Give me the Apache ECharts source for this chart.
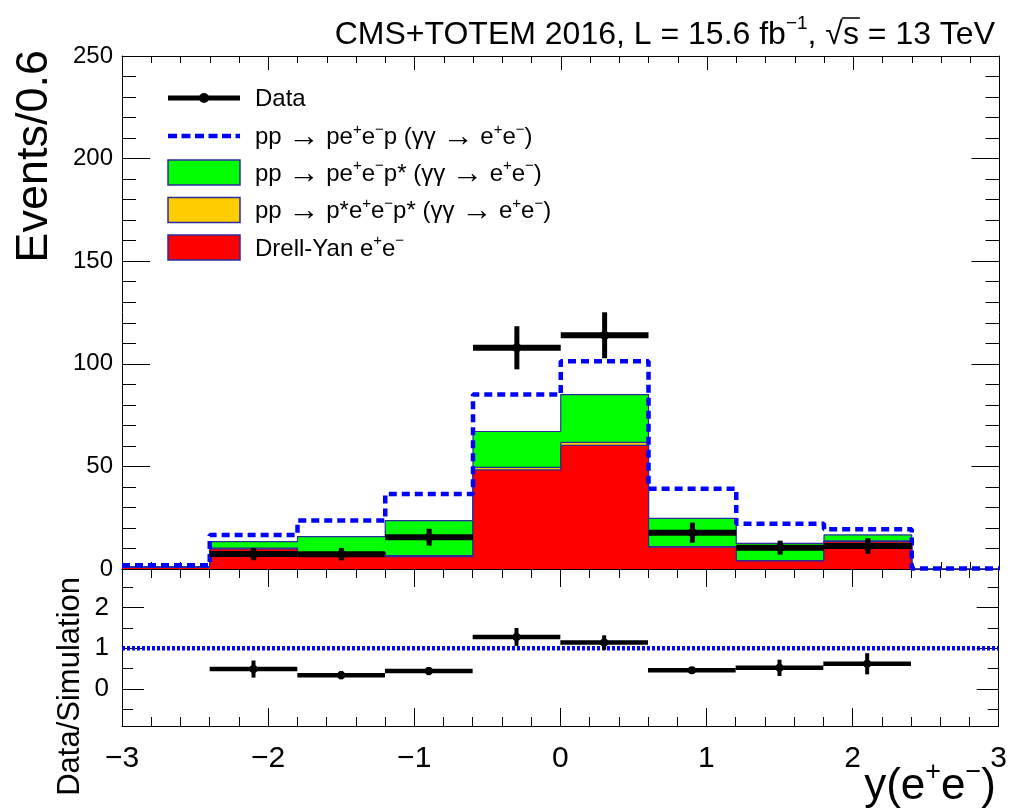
<!DOCTYPE html>
<html>
<head>
<meta charset="utf-8">
<script src="https://cdn.jsdelivr.net/npm/echarts@6/dist/echarts.min.js"></script>
<style>
html, body { margin: 0; padding: 0; background: #fff; }
#chart { width: 1010px; height: 809px; }
</style>
</head>
<body>
<div id="chart"></div>
<script>
// Rapidity bins of the e+e- pair
const binEdges = [-3, -2.4, -1.8, -1.2, -0.6, 0, 0.6, 1.2, 1.8, 2.4, 3];

// Simulated contributions per bin (events / 0.6), stacked bottom to top
const drellYan   = [0.8, 9.8, 7.5, 6.0, 48.3, 60.2, 10.6, 3.9, 13.3, 0];
const doubleDiss = [0.1, 0.4, 0.4, 0.5, 1.2, 1.5, 0.3, 0.2, 0.4, 0];
const singleDiss = [0.3, 3.1, 7.9, 17.1, 17.5, 23.3, 13.8, 8.4, 2.9, 0];
const exclusive  = [0.6, 3.3, 7.8, 12.9, 18.0, 16.2, 14.4, 9.5, 2.8, 0.3];

// Measured data
const dataX   = [-2.1, -1.5, -0.9, -0.3, 0.3, 0.9, 1.5, 2.1];
const dataY   = [7.3, 7.2, 15.5, 107.8, 113.9, 17.7, 10.4, 11.2];
const dataErr = [3.0, 3.0, 4.1, 10.5, 11.2, 4.9, 3.4, 3.8];

// Data / simulation ratio
const ratioY   = [0.49, 0.34, 0.44, 1.28, 1.14, 0.46, 0.52, 0.62];
const ratioErr = [0.21, 0.10, 0.10, 0.22, 0.18, 0.08, 0.20, 0.26];

// Axis ticks of the ratio panel
const ratioMajorTicks = [0, 1, 2];
const ratioMinorTicks = [-0.5, 0.5, 1.5, 2.5];

const FONT = '"Liberation Sans", Arial, Helvetica, sans-serif';
const OUTLINE = '#2b2b9c';
const halfBin = (binEdges[1] - binEdges[0]) / 2;

// running sums of the stack, layer by layer
function addUp(...layers) {
  return layers[0].map((_, i) => layers.reduce((s, l) => s + l[i], 0));
}
const cumRed    = addUp(drellYan);
const cumOrange = addUp(drellYan, doubleDiss);
const cumGreen  = addUp(drellYan, doubleDiss, singleDiss);
const cumTotal  = addUp(drellYan, doubleDiss, singleDiss, exclusive);

// step outline: one point per bin edge, the last edge repeats the last bin
function stepPoints(vals) {
  return binEdges.map((e, i) => [e, vals[Math.min(i, vals.length - 1)]]);
}

const minusSign = v => String(v).replace('-', '\u2212');

const chart = echarts.init(document.getElementById('chart'), null, { renderer: 'canvas' });

const mainGrid = { left: 122, top: 56, width: 877.5, height: 513 };
const ratioGrid = { left: 122, top: 569, width: 877.5, height: 157 };

function xAxisDef(gridIndex, position, tickLen, showLabel) {
  return {
    type: 'value', gridIndex, position, min: -3, max: 3, interval: 1,
    axisLine: { show: true, onZero: false, lineStyle: { color: '#000', width: 1 } },
    axisTick: { show: true, inside: true, length: tickLen, lineStyle: { color: '#000', width: 1 } },
    minorTick: { show: true, splitNumber: 5, length: tickLen / 2, lineStyle: { color: '#000', width: 1 } },
    axisLabel: { show: showLabel, fontFamily: FONT, fontSize: 30, color: '#000', margin: 18, formatter: minusSign },
    splitLine: { show: false }, minorSplitLine: { show: false }
  };
}

function ratioYAxis(position, ticks, len, showLabel) {
  return {
    type: 'value', gridIndex: 1, position, min: -0.91, max: 2.95,
    axisLine: { show: true, onZero: false, lineStyle: { color: '#000', width: 1 } },
    axisTick: { show: true, inside: true, length: len, customValues: ticks, lineStyle: { color: '#000', width: 1 } },
    axisLabel: { show: showLabel, customValues: ticks, fontFamily: FONT, fontSize: 26, color: '#000', margin: 13 },
    splitLine: { show: false }
  };
}

function mainYAxis(position, showLabel) {
  return {
    type: 'value', gridIndex: 0, position, min: 0, max: 250, interval: 50,
    axisLine: { show: true, onZero: false, lineStyle: { color: '#000', width: 1 } },
    axisTick: { show: true, inside: true, length: 28, lineStyle: { color: '#000', width: 1 } },
    minorTick: { show: true, splitNumber: 5, length: 14, lineStyle: { color: '#000', width: 1 } },
    axisLabel: { show: showLabel, fontFamily: FONT, fontSize: 24, color: '#000', margin: 9 },
    splitLine: { show: false }, minorSplitLine: { show: false }
  };
}

// each layer is filled from zero up to its running sum; higher layers are
// drawn first so the lower ones sit on top of them
function stackLayer(name, cum, fill, z) {
  return {
    name, type: 'line', xAxisIndex: 0, yAxisIndex: 0, step: 'end',
    data: stepPoints(cum), showSymbol: false, symbol: 'none',
    lineStyle: { color: OUTLINE, width: 1.2 },
    areaStyle: { color: fill, opacity: 1, origin: 'start' },
    z
  };
}

function errorBars(xIdx, yIdx, ys, errs, hThick, vThick, r) {
  return {
    type: 'custom', xAxisIndex: xIdx, yAxisIndex: yIdx, z: 10,
    data: dataX.map((x, i) => [x, ys[i], errs[i]]),
    renderItem(params, api) {
      const x = api.value(0), y = api.value(1), e = api.value(2);
      const pl = api.coord([x - halfBin, y]);
      const pr = api.coord([x + halfBin, y]);
      const pt = api.coord([x, y + e]);
      const pb = api.coord([x, y - e]);
      const pc = api.coord([x, y]);
      return {
        type: 'group',
        children: [
          { type: 'line', shape: { x1: pl[0], y1: pl[1], x2: pr[0], y2: pr[1] }, style: { stroke: '#000', lineWidth: hThick } },
          { type: 'line', shape: { x1: pt[0], y1: pt[1], x2: pb[0], y2: pb[1] }, style: { stroke: '#000', lineWidth: vThick } },
          { type: 'circle', shape: { cx: pc[0], cy: pc[1], r }, style: { fill: '#000' } }
        ]
      };
    }
  };
}

// ---- text helpers
const measureCtx = document.createElement('canvas').getContext('2d');
function textWidth(str, size) {
  measureCtx.font = size + 'px ' + FONT;
  return measureCtx.measureText(str).width;
}

function richText(x, y, text, size, supSize, align) {
  return {
    type: 'text', x, y,
    style: {
      text, fill: '#000', font: size + 'px ' + FONT,
      align: align || 'left', verticalAlign: 'middle',
      rich: {
        m: { fontSize: size, fontFamily: FONT, lineHeight: size * 1.15, verticalAlign: 'bottom' },
        sup: { fontSize: supSize, fontFamily: FONT, lineHeight: supSize, verticalAlign: 'top' },
        arr: { fontSize: size * 1.3, fontFamily: FONT, lineHeight: size * 1.15, verticalAlign: 'middle', padding: [3, 0, 0, 0] }
      }
    },
    z: 100
  };
}

// header
const headSize = 32;
const headRight = 995;
const headTail = ' = 13 TeV';
const sRight = headRight - textWidth(headTail, headSize);
const sLeft = sRight - textWidth('s', headSize);

const legendX = 168, legendW = 72, legendText = 255, legendFont = 24;
const legendRows = [98, 136, 172.5, 210, 247.5];
const ARROW = '{arr|\u2192}';

const graphics = [
  richText(headRight, 33, '{m|CMS+TOTEM 2016, L = 15.6 fb}{sup|\u22121}{m|, \u221As = 13 TeV}', headSize, 19, 'right'),
  { type: 'line', shape: { x1: sLeft - 1, y1: 18, x2: sRight + 1, y2: 18 }, style: { stroke: '#000', lineWidth: 1.5 }, z: 100 },

  // axis titles
  { type: 'text', x: 35, y: 50, rotation: Math.PI / 2,
    style: { text: 'Events/0.6', font: '45px ' + FONT, fill: '#000', align: 'right', verticalAlign: 'middle' }, z: 100 },
  { type: 'text', x: 70, y: 577, rotation: Math.PI / 2,
    style: { text: 'Data/Simulation', font: '31px ' + FONT, fill: '#000', align: 'right', verticalAlign: 'middle' }, z: 100 },
  richText(996, 784, '{m|y(e}{sup|+}{m|e}{sup|\u2212}{m|)}', 44, 27, 'right'),

  // legend symbols
  { type: 'line', shape: { x1: legendX, y1: legendRows[0], x2: legendX + legendW, y2: legendRows[0] }, style: { stroke: '#000', lineWidth: 5 }, z: 100 },
  { type: 'circle', shape: { cx: legendX + legendW / 2, cy: legendRows[0], r: 5 }, style: { fill: '#000' }, z: 100 },
  { type: 'line', shape: { x1: legendX, y1: legendRows[1], x2: legendX + legendW, y2: legendRows[1] }, style: { stroke: '#0000ff', lineWidth: 4.5, lineDash: [9, 4.5] }, z: 100 },
  { type: 'rect', shape: { x: legendX, y: legendRows[2] - 12.5, width: legendW, height: 25 }, style: { fill: '#00ff00', stroke: OUTLINE, lineWidth: 1.5 }, z: 100 },
  { type: 'rect', shape: { x: legendX, y: legendRows[3] - 12.5, width: legendW, height: 25 }, style: { fill: '#ffcc00', stroke: OUTLINE, lineWidth: 1.5 }, z: 100 },
  { type: 'rect', shape: { x: legendX, y: legendRows[4] - 12.5, width: legendW, height: 25 }, style: { fill: '#ff0000', stroke: OUTLINE, lineWidth: 1.5 }, z: 100 },

  // legend labels
  richText(legendText, legendRows[0], '{m|Data}', legendFont, 15, 'left'),
  richText(legendText, legendRows[1], '{m|pp }' + ARROW + '{m| pe}{sup|+}{m|e}{sup|\u2212}{m|p (\u03B3\u03B3 }' + ARROW + '{m| e}{sup|+}{m|e}{sup|\u2212}{m|)}', legendFont, 15, 'left'),
  richText(legendText, legendRows[2], '{m|pp }' + ARROW + '{m| pe}{sup|+}{m|e}{sup|\u2212}{m|p* (\u03B3\u03B3 }' + ARROW + '{m| e}{sup|+}{m|e}{sup|\u2212}{m|)}', legendFont, 15, 'left'),
  richText(legendText, legendRows[3], '{m|pp }' + ARROW + '{m| p*e}{sup|+}{m|e}{sup|\u2212}{m|p* (\u03B3\u03B3 }' + ARROW + '{m| e}{sup|+}{m|e}{sup|\u2212}{m|)}', legendFont, 15, 'left'),
  richText(legendText, legendRows[4], '{m|Drell-Yan e}{sup|+}{m|e}{sup|\u2212}', legendFont, 15, 'left')
];

chart.setOption({
  animation: false,
  backgroundColor: '#fff',
  grid: [mainGrid, ratioGrid],
  xAxis: [
    xAxisDef(0, 'bottom', 14, false),
    xAxisDef(0, 'top', 14, false),
    xAxisDef(1, 'bottom', 18, true),
    xAxisDef(1, 'top', 18, false)
  ],
  yAxis: [
    mainYAxis('left', true),
    mainYAxis('right', false),
    ratioYAxis('left', ratioMajorTicks, 22, true),
    ratioYAxis('left', ratioMinorTicks, 11, false),
    ratioYAxis('right', ratioMajorTicks, 22, false),
    ratioYAxis('right', ratioMinorTicks, 11, false)
  ],
  series: [
    stackLayer('single dissociative', cumGreen, '#00ff00', 2),
    stackLayer('double dissociative', cumOrange, '#ffcc00', 3),
    stackLayer('Drell-Yan', cumRed, '#ff0000', 4),
    {
      name: 'exclusive', type: 'line', xAxisIndex: 0, yAxisIndex: 0, step: 'end',
      data: stepPoints(cumTotal), showSymbol: false, symbol: 'none',
      lineStyle: { color: '#0000ff', width: 4.5, type: [8, 5] }, z: 5
    },
    errorBars(0, 0, dataY, dataErr, 6, 5, 4.5),
    {
      name: 'unity', type: 'line', xAxisIndex: 2, yAxisIndex: 2,
      data: [[-3, 1], [3, 1]], showSymbol: false, symbol: 'none',
      lineStyle: { color: '#0000ff', width: 4.5, type: [3, 2] }, z: 3
    },
    errorBars(2, 2, ratioY, ratioErr, 4.5, 4, 4)
  ],
  graphic: graphics
});
</script>
</body>
</html>
